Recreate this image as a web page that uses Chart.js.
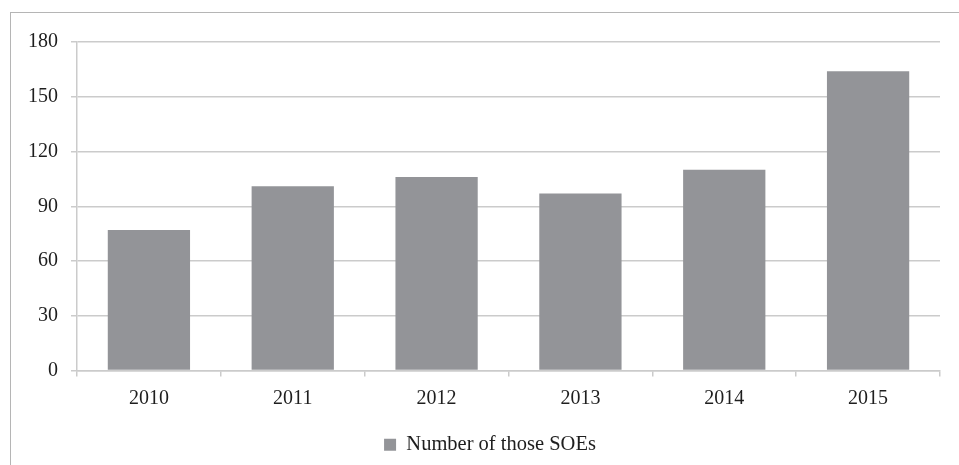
<!DOCTYPE html>
<html>
<head>
<meta charset="utf-8">
<script src="https://cdn.jsdelivr.net/npm/chart.js@4/dist/chart.umd.min.js"></script>
<style>
  html, body { margin: 0; padding: 0; background: #fff; overflow: hidden; }
  #wrap { position: relative; width: 959px; height: 465px; }
  #frame { position: absolute; left: 10px; top: 12px; width: 1000px; height: 500px;
           border: 1px solid #b5b5b5; box-sizing: border-box; }
  #c { position: absolute; left: 0; top: 0; }
</style>
</head>
<body>
<div id="wrap">
  <div id="frame"></div>
  <canvas id="c" width="959" height="465"></canvas>
</div>
<script>
// Yearly counts of SOEs
const years = ['2010', '2011', '2012', '2013', '2014', '2015'];
const soeCounts = [77, 101, 106, 97, 110, 164];
const seriesName = 'Number of those SOEs';
const yMin = 0, yMax = 180, yStep = 30;

const gridGrey = '#cbcbcb';
const barGrey = '#939498';
const textColor = '#1e1e1e';
const serif = '"Liberation Serif", "Times New Roman", serif';

// Nudge the legend so it sits centred under the bordered frame
const legendNudge = {
  id: 'legendNudge',
  afterLayout(chart) {
    const lg = chart.legend;
    if (lg) { lg.left += 20; lg.right += 20; }
  }
};

new Chart(document.getElementById('c'), {
  type: 'bar',
  data: {
    labels: years,
    datasets: [{
      label: seriesName,
      data: soeCounts,
      backgroundColor: barGrey,
      borderWidth: 0,
      barPercentage: 0.572,
      categoryPercentage: 1.0
    }]
  },
  plugins: [legendNudge],
  options: {
    responsive: false,
    animation: false,
    devicePixelRatio: 1,
    layout: { padding: { left: 0, right: 19, top: 42, bottom: 0 } },
    plugins: {
      tooltip: { enabled: false },
      legend: {
        position: 'bottom',
        labels: {
          boxWidth: 12, boxHeight: 12, padding: 14,
          color: textColor,
          font: { family: serif, size: 20.5 }
        }
      }
    },
    scales: {
      x: {
        grid: { drawOnChartArea: false, drawTicks: true, tickLength: 6,
                color: gridGrey, lineWidth: 1.5, offset: true },
        border: { color: gridGrey, width: 1.5 },
        ticks: { color: textColor, font: { family: serif, size: 20 }, padding: 10 }
      },
      y: {
        min: yMin, max: yMax,
        afterFit: (axis) => { axis.width = 77; },
        grid: { color: gridGrey, lineWidth: 1.5, tickLength: 6 },
        border: { color: gridGrey, width: 1.5 },
        ticks: { stepSize: yStep, color: textColor, font: { family: serif, size: 20 }, padding: 13 }
      }
    }
  }
});
</script>
</body>
</html>
